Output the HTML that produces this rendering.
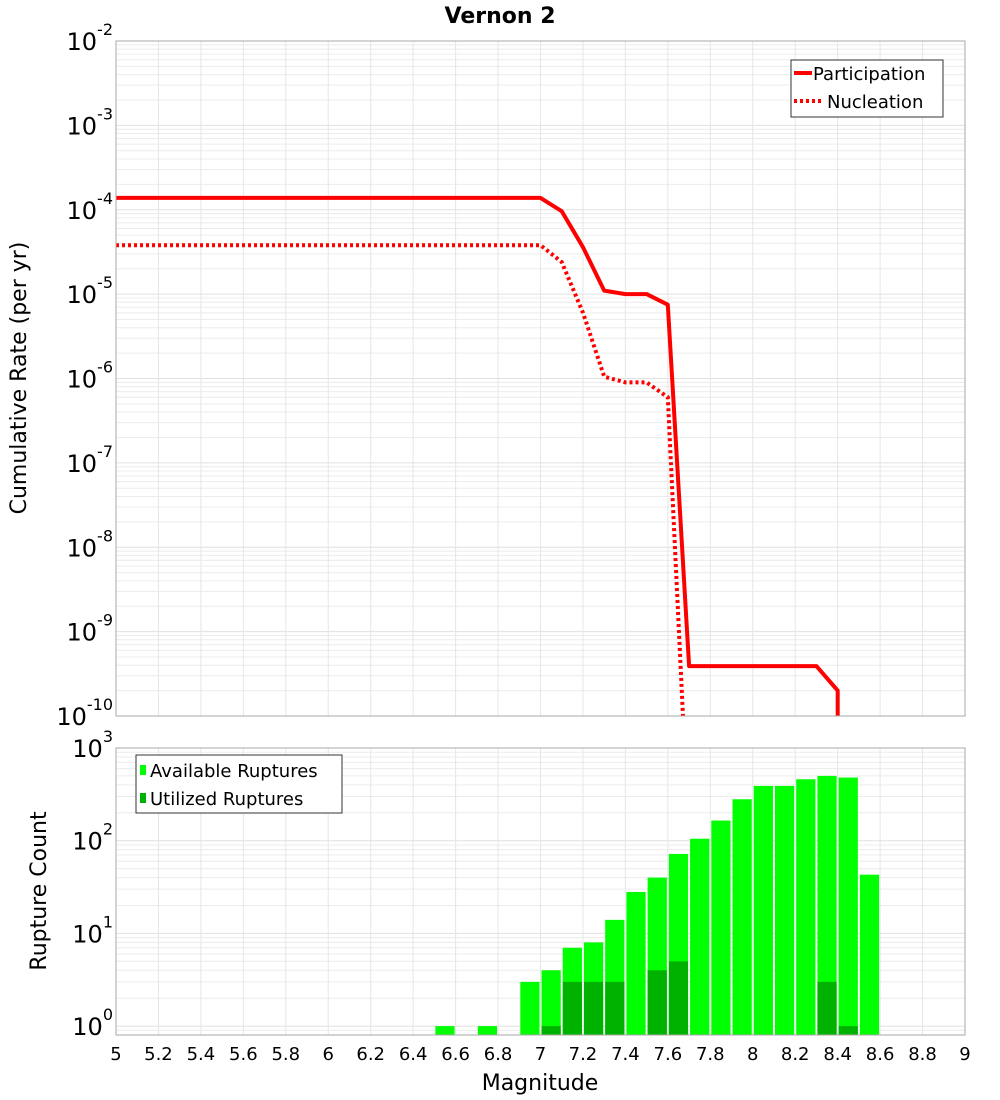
<!DOCTYPE html>
<html><head><meta charset="utf-8"><style>
body{margin:0;background:#fff;font-family:"DejaVu Sans","Liberation Sans",sans-serif}
svg text{font-family:"DejaVu Sans","Liberation Sans",sans-serif}
</style></head><body>
<svg id="c" width="1000" height="1100" viewBox="0 0 1000 1100" xmlns="http://www.w3.org/2000/svg" style="position:absolute;left:0;top:0">
<text x="500" y="23" text-anchor="middle" font-size="22" font-weight="bold">Vernon 2</text>
<g id="gtop"></g>
<g id="gbot"></g>
</svg>
<script>
const magX=[5,5.1,5.2,5.3,5.4,5.5,5.6,5.7,5.8,5.9,6,6.1,6.2,6.3,6.4,6.5,6.6,6.7,6.8,6.9,7,7.1,7.2,7.3,7.4,7.5,7.6,7.7,7.8,7.9,8,8.1,8.2,8.3,8.4,8.4];
const participation=[1.38e-4,1.38e-4,1.38e-4,1.38e-4,1.38e-4,1.38e-4,1.38e-4,1.38e-4,1.38e-4,1.38e-4,1.38e-4,1.38e-4,1.38e-4,1.38e-4,1.38e-4,1.38e-4,1.38e-4,1.38e-4,1.38e-4,1.38e-4,1.38e-4,9.6e-5,3.6e-5,1.1e-5,1.0e-5,1.0e-5,7.5e-6,3.9e-10,3.9e-10,3.9e-10,3.9e-10,3.9e-10,3.9e-10,3.9e-10,2e-10,1e-13];
const nucX=[5,5.5,6,6.5,7,7.1,7.2,7.3,7.4,7.5,7.6,7.7];
const nucleation=[3.8e-5,3.8e-5,3.8e-5,3.8e-5,3.8e-5,2.4e-5,6e-6,1.05e-6,9e-7,9e-7,6e-7,3e-12];
const binStart=[6.5,6.7,6.9,7.0,7.1,7.2,7.3,7.4,7.5,7.6,7.7,7.8,7.9,8.0,8.1,8.2,8.3,8.4,8.5];
const available=[1,1,3,4,7,8,14,28,40,72,105,165,280,390,390,460,500,480,43];
const utilBin=[7.0,7.1,7.2,7.3,7.5,7.6,8.3,8.4];
const utilized=[1,3,3,3,4,5,3,1];
const xTicks=[5,5.2,5.4,5.6,5.8,6,6.2,6.4,6.6,6.8,7,7.2,7.4,7.6,7.8,8,8.2,8.4,8.6,8.8,9];
const topExp=[-2,-3,-4,-5,-6,-7,-8,-9,-10];
const botExp=[3,2,1,0];

const NS="http://www.w3.org/2000/svg";
const L=116,R=965;
const X=v=>L+(v-5)/4*(R-L);
const T0=41,T1=716, yT=v=>T0+(-2-Math.log10(v))*(T1-T0)/8;
const B0=748,B1=1035,BD=92.7, yB=v=>B0+(3-Math.log10(v))*BD;
function el(p,t,a,txt){const e=document.createElementNS(NS,t);for(const k in a)e.setAttribute(k,a[k]);if(txt!=null)e.textContent=txt;p.appendChild(e);return e;}
const svgRoot=document.getElementById('c');
const gTop=document.getElementById('gtop'),gBot=document.getElementById('gbot');

function grid(g,y0,y1,ylog,emin,emax){
  for(let e=emin;e<emax;e++)for(let m=1;m<10;m++){const y=ylog(m*Math.pow(10,e));if(y<y0-0.5||y>y1+0.5)continue;
    const l=el(g,'line',{x1:L,x2:R,y1:y,y2:y,stroke:m==1?'#e0e0e0':'#ececec','stroke-width':1});
    
    }
  xTicks.forEach(t=>{const l=el(g,'line',{x1:X(t),x2:X(t),y1:y0,y2:y1,stroke:'#e6e6e6','stroke-width':1});
    
    });
}
grid(gTop,T0,T1,yT,-10,-2);
grid(gBot,B0,B1,yB,-1,3);

const defs=el(svgRoot,'defs',{});
const cp=el(defs,'clipPath',{id:'ct'});el(cp,'rect',{x:L,y:T0,width:R-L,height:T1-T0});
const cb=el(defs,'clipPath',{id:'cb'});el(cb,'rect',{x:L,y:B0,width:R-L,height:B1-B0});

const gl=el(gTop,'g',{'clip-path':'url(#ct)'});
let d=magX.map((m,i)=>(i?'L':'M')+X(m).toFixed(1)+','+yT(participation[i]).toFixed(1)).join('');
const p1=el(gl,'path',{d:d,fill:'none',stroke:'#ff0000','stroke-width':4,'stroke-linejoin':'round'});


d=nucX.map((m,i)=>(i?'L':'M')+X(m).toFixed(1)+','+yT(nucleation[i]).toFixed(1)).join('');
const p2=el(gl,'path',{d:d,fill:'none',stroke:'#ff0000','stroke-width':4,'stroke-dasharray':'3,3'});



const gb=el(gBot,'g',{'clip-path':'url(#cb)'});
binStart.forEach((b,i)=>{const x=X(b)+1,w=X(b+0.1)-X(b)-2,y=yB(available[i]);
  const r=el(gb,'rect',{x:x,y:y,width:w,height:B1-y,fill:'#00ff00'});
  
  });
utilBin.forEach((b,i)=>{const x=X(b)+1,w=X(b+0.1)-X(b)-2,y=yB(utilized[i]);
  const r=el(gb,'rect',{x:x,y:y,width:w,height:B1-y,fill:'#00b200'});
  
  });

[[T0,T1],[B0,B1]].forEach(f=>{const r=el(svgRoot,'rect',{x:L,y:f[0],width:R-L,height:f[1]-f[0],fill:'none',stroke:'#aaaaaa','stroke-width':1});
  
  });

function ylab(g,e,y){const t=el(g,'text',{x:113,y:y+9,'text-anchor':'end','font-size':24});
  
  
  el(t,'tspan',{},'10');el(t,'tspan',{dy:-15,'font-size':16},String(e));}
topExp.forEach(e=>ylab(gTop,e,yT(Math.pow(10,e))));
botExp.forEach(e=>ylab(gBot,e,yB(Math.pow(10,e))));
xTicks.forEach(t=>{const s=el(gBot,'text',{x:X(t),y:1060,'text-anchor':'middle','font-size':18},String(t));
  
  });
</script>
<svg style="position:absolute;left:0;top:0" width="1000" height="1100">
<text transform="translate(26,378) rotate(-90)" text-anchor="middle" font-size="22">Cumulative Rate (per yr)</text>
<text transform="translate(46,891) rotate(-90)" text-anchor="middle" font-size="22">Rupture Count</text>
<text x="540" y="1090" text-anchor="middle" font-size="22">Magnitude</text>
<g>
<rect x="791" y="60" width="152" height="57" fill="#fff" stroke="#333" stroke-width="1"/>
<line x1="794" y1="73" x2="812" y2="73" stroke="#f00" stroke-width="4"/>
<text x="813" y="80" font-size="18">Participation</text>
<line x1="794" y1="101" x2="822" y2="101" stroke="#f00" stroke-width="4" stroke-dasharray="3,3"/>
<text x="827" y="108" font-size="18">Nucleation</text>
</g>
<g>
<rect x="136" y="755" width="206" height="58" fill="#fff" stroke="#333" stroke-width="1"/>
<rect x="140" y="765" width="6" height="10" fill="#00ff00"/>
<text x="150" y="777" font-size="18">Available Ruptures</text>
<rect x="140" y="793" width="6" height="10" fill="#00b200"/>
<text x="150" y="805" font-size="18">Utilized Ruptures</text>
</g>
</svg>
</body></html>
